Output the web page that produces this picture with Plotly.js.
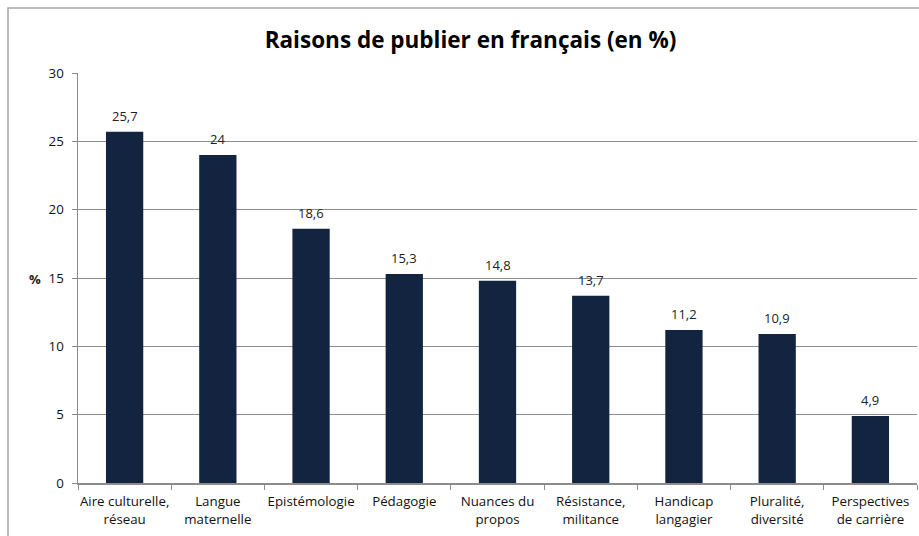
<!DOCTYPE html>
<html>
<head>
<meta charset="utf-8">
<script src="https://cdn.plot.ly/plotly-3.0.1.min.js"></script>
<style>html,body{margin:0;padding:0;background:#fff;}#chart{width:919px;height:536px;}</style>
</head>
<body>
<div id="chart"></div>
<script>
const categories = [
  "Aire culturelle,<br>réseau",
  "Langue<br>maternelle",
  "Epistémologie",
  "Pédagogie",
  "Nuances du<br>propos",
  "Résistance,<br>militance",
  "Handicap<br>langagier",
  "Pluralité,<br>diversité",
  "Perspectives<br>de carrière"
];
const values = [25.7, 24, 18.6, 15.3, 14.8, 13.7, 11.2, 10.9, 4.9];
const yTicks = [0, 5, 10, 15, 20, 25, 30];

const FONT = "Open Sans, Noto Sans, sans-serif";
const plotL = 78, plotR = 917, plotT = 73, plotB = 483;
const W = 919, H = 536;
const pw = plotR - plotL, ph = plotB - plotT;

const annotations = values.map((v, i) => ({
  x: categories[i], y: v, xref: 'x', yref: 'y',
  text: String(v).replace('.', ','),
  showarrow: false, yanchor: 'bottom', yshift: 5,
  font: {family: FONT, size: 13, color: '#222'}
}));
annotations.push({
  xref: 'paper', yref: 'paper',
  x: (42 - plotL) / pw, xanchor: 'right', borderpad: 0,
  y: (plotB - 279) / ph,
  text: '<b>%</b>', showarrow: false,
  font: {family: FONT, size: 13, color: '#222'}
});

const data = [{
  type: 'bar', x: categories, y: values,
  marker: {color: '#12243F'},
  hoverinfo: 'skip'
}];

const layout = {
  width: W, height: H,
  margin: {l: plotL, r: W - plotR, t: plotT, b: H - plotB, pad: 0},
  paper_bgcolor: '#fff', plot_bgcolor: '#fff',
  bargap: 0.6,
  showlegend: false,
  title: {
    text: '<b>Raisons de publier en français (en %)</b>',
    font: {family: FONT, size: 22.5, color: '#000'},
    x: 0.512, xanchor: 'center', y: 1 - 40 / H, yanchor: 'middle'
  },
  xaxis: {
    type: 'category',
    showline: true, linecolor: '#8c8c8c', linewidth: 1.5,
    ticks: 'outside', ticklen: 5, tickcolor: '#8c8c8c', tickwidth: 1,
    tickson: 'boundaries',
    tickangle: 0,
    ticklabelstandoff: 6,
    showgrid: false,
    tickfont: {family: FONT, size: 13.3, color: '#111'},
    fixedrange: true
  },
  yaxis: {
    range: [0, 30], tickvals: yTicks,
    showline: true, linecolor: '#8c8c8c', linewidth: 1.5,
    ticks: 'outside', ticklen: 5, tickcolor: '#8c8c8c',
    ticklabelstandoff: 5,
    showgrid: true, gridcolor: '#8c8c8c', gridwidth: 1,
    zeroline: false,
    tickfont: {family: FONT, size: 13.3, color: '#111'},
    fixedrange: true
  },
  annotations: annotations,
  shapes: [{
    type: 'rect', xref: 'paper', yref: 'paper',
    x0: (8 - plotL) / pw, x1: (W + 20 - plotL) / pw,
    y0: (plotB - (H + 20)) / ph, y1: (plotB - 8) / ph,
    line: {color: '#a6a6a6', width: 1.5}, fillcolor: 'rgba(0,0,0,0)', layer: 'below'
  }]
};

Plotly.newPlot('chart', data, layout, {displayModeBar: false, staticPlot: true});
</script>
</body>
</html>
